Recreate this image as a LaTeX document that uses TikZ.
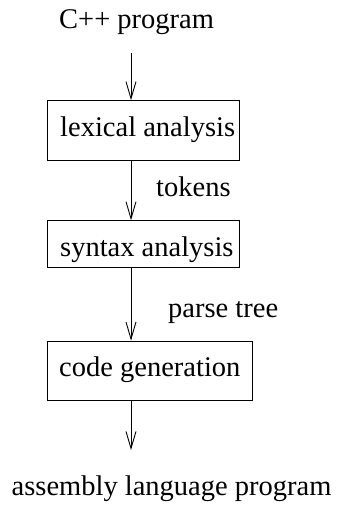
\documentclass[tikz,border=0pt]{standalone}
\usepackage{fontspec}
\setmainfont{Liberation Serif}
\usetikzlibrary{arrows.meta}
\begin{document}
\begin{tikzpicture}[x=1pt,y=-1pt,
  box/.style={draw,line width=0.9pt,rectangle,inner sep=0pt},
  txt/.style={anchor=base west,inner sep=0pt,font=\fontsize{28.5}{34}\selectfont},
  flow/.style={line width=0.9pt,-{Straight Barb[length=17pt,width=10pt,line width=0.9pt]}}]
\useasboundingbox (0,0) rectangle (339,506);
\node[txt] (in) at (59,28) {C++ program};
\coordinate (instart) at (131,53);
\node[box,minimum width=192pt,minimum height=59.5pt] (b1) at (143.3,130.4) {};
\node[txt] (t1) at (60,136.7) {lexical analysis};
\node[box,minimum width=192pt,minimum height=46.6pt] (b2) at (143.3,244) {};
\node[txt] (t2) at (60,256) {syntax analysis};
\node[box,minimum width=204.7pt,minimum height=59.5pt] (b3) at (149.6,370.8) {};
\node[txt] (t3) at (59,376.7) {code generation};
\node[txt] (tok) at (156,196) {tokens};
\node[txt] (pt) at (168,317) {parse tree};
\coordinate (outend) at (131,450);
\node[txt] (out) at (11.5,495) {assembly language program};
\draw[flow] (instart) -- (instart |- b1.north);
\draw[flow] (instart |- b1.south) -- (instart |- b2.north);
\draw[flow] (instart |- b2.south) -- (instart |- b3.north);
\draw[flow] (instart |- b3.south) -- (outend);
\end{tikzpicture}
\end{document}
